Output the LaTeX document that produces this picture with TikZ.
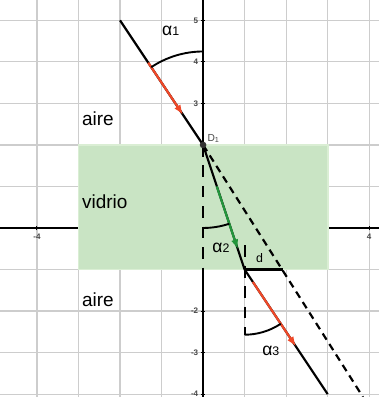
\documentclass[tikz,border=0pt]{standalone}
\usepackage{fontspec}
\setmainfont{Liberation Sans}
\usetikzlibrary{arrows.meta}
\definecolor{glassfill}{RGB}{201,228,196}
\definecolor{glassedge}{RGB}{218,238,212}
\definecolor{gridc}{RGB}{205,205,205}
\definecolor{rayred}{RGB}{240,72,40}
\definecolor{raygreen}{RGB}{35,150,60}
\definecolor{ticktext}{RGB}{70,70,70}
\begin{document}
\begin{tikzpicture}[
  gridline/.style={gridc, line width=0.8pt},
  axisline/.style={black, line width=1.1pt},
  tickline/.style={black, line width=0.7pt},
  ticklabel/.style={font=\fontsize{5.5}{6}\selectfont\bfseries, text=ticktext, inner sep=0pt},
  ray/.style={black, line width=1.5pt},
  normalline/.style={black, line width=1.5pt, dash pattern=on 8pt off 6pt},
  extline/.style={black, line width=1.5pt, dash pattern=on 5pt off 3.5pt},
  anglearc/.style={black, line width=1.3pt},
  redarrow/.style={rayred, line width=1.5pt, -{Latex[length=7pt,width=5pt]}},
  greenarrow/.style={raygreen, line width=1.5pt, -{Latex[length=7pt,width=5pt]}},
  medium/.style={font=\fontsize{13}{15}\selectfont, inner sep=0pt, anchor=base west},
  anglelabel/.style={inner sep=0pt, anchor=base west},
]
\useasboundingbox (-4.89,-4.07) rectangle (4.24,5.49);
\fill[white] (-4.89,-4.07) rectangle (4.24,5.49);
% grid
\foreach \x in {-4,...,4} \draw[gridline] (\x,-4.07) -- (\x,5.49);
\foreach \y in {-4,...,5} \draw[gridline] (-4.89,\y) -- (4.24,\y);
% axes
\draw[axisline] (-4.89,0) -- (4.24,0);
\draw[axisline] (0,-4.07) -- (0,5.49);
\foreach \y in {-4,...,5} \draw[tickline] (-0.06,\y) -- (0.04,\y);
\foreach \x in {-4,...,4} \draw[tickline] (\x,-0.06) -- (\x,0.04);
\foreach \y/\t in {5/5,4/4,3/3,-2/-2,-3/-3,-4/-4}
  \node[ticklabel, anchor=east] (ty\y) at (-0.11,\y) {\t};
\node[ticklabel] (txm4) at (-4,-0.22) {-4};
\node[ticklabel] (tx4) at (4,-0.22) {4};
% glass
\draw[glassedge, fill=glassfill, line width=1.2pt] (-3,-1) rectangle (3,2);
% key points
\coordinate (S) at (-2,5);
\coordinate (D1) at (0,2);
\coordinate (E) at (1,-1);
\coordinate (F) at (3,-4);
\coordinate (X) at (3.85,-4.07);
\coordinate (G) at (1.93,-1);
\coordinate (N1) at (0,-1);
\coordinate (N2t) at (1,-0.42);
\coordinate (N2b) at (1,-2.57);
% normals
\draw[normalline] (D1) -- (N1);
\draw[normalline] (N2t) -- (N2b);
% dashed extension
\draw[extline] (D1) -- (X);
% rays
\draw[ray] (S) -- (D1);
\draw[ray] (D1) -- (E);
\draw[ray] (E) -- (F);
\draw[ray] (E) -- (G);
\draw[redarrow] (-1.32,3.98) -- (-0.48,2.72);
\draw[greenarrow] (0.33,1.0) -- (0.84,-0.52);
\draw[redarrow] (1.2,-1.3) -- (2.24,-2.86);
% angle arcs
\draw[anglearc] (D1) ++(90:2.25) arc[start angle=90, end angle=123.69, radius=2.25];
\draw[anglearc] (D1) ++(270:2) arc[start angle=270, end angle=288.43, radius=2];
\draw[anglearc] (E) ++(270:1.57) arc[start angle=270, end angle=303.69, radius=1.57];
% point D1
\fill[black!80] (D1) circle (0.08);
\node[font=\fontsize{7}{8}\selectfont, text=ticktext, inner sep=0pt, anchor=south west] (lD) at (0.1,2.05) {D\textsubscript{1}};
% labels
\node[medium] (aire1) at (-2.92,2.46) {aire};
\node[medium] (vid) at (-2.92,0.48) {vidrio};
\node[medium] (aire2) at (-2.92,-1.88) {aire};
\node[anglelabel] (a1) at (-0.99,4.63) {\fontsize{12}{14}\selectfont α\fontsize{8.5}{10}\selectfont 1};
\node[anglelabel] (a2) at (0.22,-0.58) {\fontsize{12}{14}\selectfont α\fontsize{8.5}{10}\selectfont 2};
\node[anglelabel] (a3) at (1.42,-3.06) {\fontsize{12}{14}\selectfont α\fontsize{8.5}{10}\selectfont 3};
\node[anglelabel, font=\fontsize{8.5}{10}\selectfont] (dl) at (1.27,-0.82) {d};
\end{tikzpicture}
\end{document}
